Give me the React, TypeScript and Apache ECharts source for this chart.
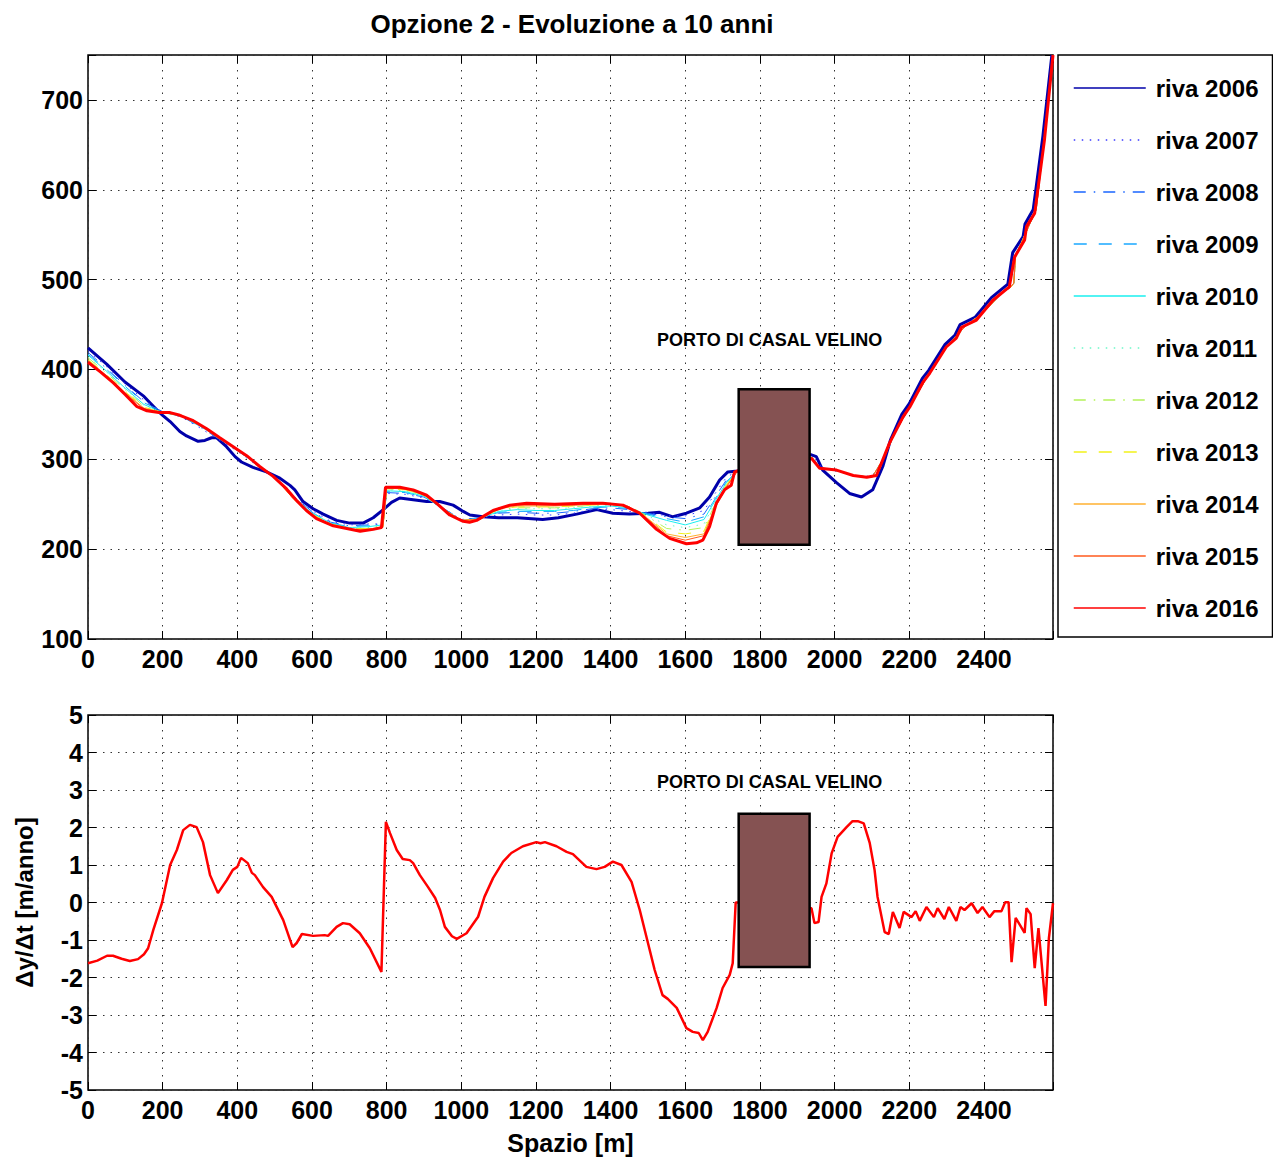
import React, { useEffect, useRef } from "react";
import * as echarts from "echarts";

// ---------- DATA ----------
const TITLE = "Opzione 2 - Evoluzione a 10 anni";
const PORT_LABEL = "PORTO DI CASAL VELINO";
const X_TICK_STEP = 200;
const X_MAX = 2585;

const YEARS = ["riva 2006", "riva 2007", "riva 2008", "riva 2009", "riva 2010", "riva 2011", "riva 2012", "riva 2013", "riva 2014", "riva 2015", "riva 2016"];

const X_2006 = [0, 50, 99, 150, 184, 200, 220, 246, 264, 295, 313, 331, 344, 371, 394, 411, 442, 478, 514, 541, 554, 576, 603, 630, 666, 701, 737, 764, 791, 813, 835, 871, 907, 942, 978, 1005, 1023, 1058, 1100, 1150, 1218, 1260, 1309, 1363, 1406, 1450, 1500, 1531, 1567, 1603, 1639, 1665, 1692, 1714, 1740, 1800, 1900, 1938, 1951, 1968, 2005, 2040, 2072, 2102, 2129, 2150, 2180, 2200, 2235, 2252, 2296, 2322, 2336, 2376, 2420, 2464, 2477, 2505, 2510, 2532, 2558, 2582];
const Y_2006 = [424, 406, 386, 370, 355, 349, 342, 331, 326, 320, 321, 324, 324, 314, 303, 297, 291, 286, 279, 271, 266, 253, 245, 239, 232, 229, 229, 235, 244, 252, 257, 255, 253, 253, 249, 242, 238, 236, 235, 235, 233, 235, 239, 244, 240, 239, 240, 241, 236, 240, 246, 258, 277, 286, 287, 292, 305, 305, 303, 288, 274, 262, 258, 266, 292, 322, 350, 362, 390, 399, 428, 438, 450, 458, 480, 495, 530, 548, 562, 578, 660, 750];

const X_2016 = [0, 34, 68, 100, 130, 158, 190, 220, 246, 282, 318, 353, 389, 425, 460, 496, 532, 559, 585, 612, 657, 693, 729, 764, 786, 797, 835, 871, 907, 934, 969, 1005, 1022, 1041, 1085, 1130, 1175, 1250, 1326, 1379, 1433, 1478, 1523, 1558, 1603, 1630, 1647, 1665, 1683, 1705, 1723, 1732, 1740, 1800, 1900, 1938, 1960, 2005, 2050, 2086, 2112, 2147, 2183, 2201, 2237, 2255, 2299, 2326, 2340, 2380, 2424, 2468, 2482, 2509, 2514, 2536, 2562, 2585];
const Y_2016 = [408, 397, 385, 372, 359, 354, 352, 352, 349, 343, 334, 324, 314, 304, 292, 281, 267, 254, 243, 234, 226, 223, 220, 222, 224, 269, 269, 266, 260, 251, 238, 231, 230, 232, 243, 249, 251, 250, 251, 251, 249, 240, 222, 212, 206, 207, 210, 225, 251, 266, 271, 286, 287, 290, 298, 301, 290, 288, 282, 280, 282, 318, 347, 358, 386, 396, 425, 435, 447, 455, 477, 492, 525, 544, 559, 574, 655, 750];

// shared abscissa of the intermediate years
const X_MID = [0, 50, 100, 150, 200, 250, 300, 350, 400, 450, 500, 550, 600, 650, 700, 750, 790, 800, 850, 900, 950, 1000, 1050, 1100, 1150, 1200, 1250, 1300, 1350, 1400, 1450, 1500, 1550, 1600, 1650, 1680, 1710, 1740, 1800, 1900, 1940, 1960, 2000, 2050, 2100, 2130, 2160, 2200, 2250, 2300, 2350, 2400, 2450, 2470, 2480, 2485, 2510, 2540, 2560, 2585];
const Y_2007 = [421, 403, 384, 366, 353, 347, 335, 322, 309, 294, 280, 259, 243, 231, 227, 228, 228, 262, 261, 257, 246, 233, 235, 238, 239, 238, 238, 240, 244, 244, 242, 241, 237, 237, 243, 262, 280, 287, 290, 299, 302, 293, 287, 282, 281, 300, 329, 359, 394, 426, 449, 465, 487, 492, 497, 528, 551, 579, 651, 750];
const Y_2008 = [419, 401, 382, 364, 353, 348, 336, 323, 310, 295, 280, 259, 242, 230, 226, 227, 228, 263, 262, 258, 246, 233, 235, 240, 241, 240, 240, 242, 245, 246, 244, 240, 236, 234, 239, 258, 277, 287, 290, 299, 302, 291, 288, 282, 280, 300, 328, 358, 393, 425, 448, 464, 486, 491, 496, 527, 550, 578, 650, 750];
const Y_2009 = [417, 400, 381, 363, 353, 348, 337, 323, 310, 295, 280, 258, 241, 229, 225, 226, 227, 264, 263, 258, 246, 232, 234, 241, 242, 242, 242, 243, 246, 247, 245, 239, 234, 230, 236, 256, 275, 287, 290, 299, 302, 291, 288, 282, 280, 300, 328, 358, 393, 425, 448, 464, 486, 491, 496, 527, 550, 578, 650, 750];
const Y_2010 = [416, 398, 379, 361, 352, 348, 337, 324, 310, 295, 280, 258, 240, 229, 224, 225, 227, 265, 264, 259, 245, 232, 234, 242, 244, 243, 243, 245, 247, 248, 246, 238, 232, 227, 233, 254, 274, 287, 290, 299, 302, 290, 288, 282, 280, 300, 328, 358, 393, 425, 448, 464, 486, 491, 496, 527, 550, 578, 650, 750];
const Y_2011 = [414, 397, 378, 360, 352, 349, 337, 324, 311, 295, 280, 257, 240, 228, 224, 224, 226, 266, 265, 259, 245, 232, 234, 243, 245, 245, 245, 246, 248, 249, 247, 237, 227, 224, 228, 252, 273, 287, 290, 299, 302, 290, 288, 282, 280, 300, 328, 358, 393, 425, 448, 464, 486, 491, 496, 527, 550, 578, 650, 750];
const Y_2012 = [413, 396, 377, 359, 352, 349, 338, 324, 311, 295, 280, 257, 239, 228, 223, 223, 226, 267, 266, 260, 245, 232, 234, 244, 246, 246, 246, 247, 249, 250, 248, 236, 223, 221, 224, 250, 272, 287, 290, 299, 302, 290, 288, 282, 280, 300, 328, 358, 393, 425, 448, 464, 486, 491, 496, 527, 550, 578, 650, 750];
const Y_2013 = [411, 394, 375, 358, 352, 349, 338, 324, 311, 295, 280, 257, 239, 228, 223, 223, 225, 267, 266, 260, 245, 232, 233, 245, 247, 247, 247, 248, 249, 250, 248, 235, 219, 217, 220, 249, 271, 287, 290, 299, 302, 290, 288, 282, 280, 300, 328, 358, 393, 425, 448, 464, 486, 491, 496, 527, 550, 578, 650, 750];
const Y_2014 = [410, 393, 374, 357, 352, 349, 338, 324, 311, 295, 280, 256, 238, 227, 222, 222, 225, 268, 267, 261, 245, 232, 233, 245, 248, 248, 248, 249, 250, 250, 247, 234, 217, 213, 217, 248, 270, 287, 290, 299, 302, 290, 288, 282, 280, 300, 328, 358, 393, 425, 448, 464, 486, 491, 496, 527, 550, 578, 650, 750];
const Y_2015 = [409, 392, 373, 356, 352, 349, 338, 324, 311, 295, 280, 256, 238, 227, 222, 222, 224, 268, 267, 261, 245, 232, 233, 246, 249, 249, 249, 249, 250, 251, 247, 233, 215, 210, 215, 246, 269, 287, 290, 299, 302, 290, 288, 282, 280, 300, 328, 358, 393, 425, 448, 464, 486, 491, 496, 527, 550, 578, 650, 750];

// rate of shoreline change (m/anno)
const X_RATE = [0, 25, 51, 67, 90, 112, 134, 150, 161, 175, 198, 220, 238, 255, 273, 291, 308, 327, 348, 372, 388, 400, 410, 428, 439, 447, 469, 492, 523, 548, 559, 573, 603, 634, 643, 666, 683, 701, 728, 755, 786, 798, 809, 827, 843, 862, 871, 889, 911, 930, 943, 956, 975, 988, 1014, 1045, 1062, 1085, 1112, 1134, 1165, 1201, 1212, 1224, 1255, 1282, 1299, 1335, 1362, 1384, 1406, 1429, 1456, 1478, 1496, 1518, 1539, 1553, 1577, 1603, 1620, 1636, 1647, 1660, 1684, 1700, 1719, 1727, 1735, 1745, 1938, 1946, 1957, 1965, 1978, 1992, 2008, 2032, 2048, 2062, 2078, 2094, 2107, 2115, 2134, 2145, 2156, 2174, 2185, 2206, 2217, 2228, 2246, 2266, 2276, 2294, 2306, 2326, 2337, 2348, 2367, 2383, 2396, 2415, 2428, 2447, 2457, 2466, 2474, 2485, 2509, 2514, 2525, 2536, 2546, 2565, 2574, 2585];
const Y_RATE = [-1.62, -1.55, -1.42, -1.42, -1.5, -1.56, -1.51, -1.38, -1.22, -0.73, -0.02, 1.0, 1.4, 1.93, 2.07, 2.01, 1.61, 0.73, 0.25, 0.6, 0.87, 0.95, 1.19, 1.05, 0.79, 0.73, 0.41, 0.15, -0.47, -1.19, -1.08, -0.84, -0.89, -0.87, -0.89, -0.65, -0.55, -0.58, -0.82, -1.22, -1.85, 2.15, 1.85, 1.4, 1.16, 1.13, 1.05, 0.73, 0.41, 0.12, -0.2, -0.65, -0.9, -0.97, -0.82, -0.38, 0.15, 0.65, 1.09, 1.32, 1.5, 1.61, 1.58, 1.61, 1.5, 1.35, 1.29, 0.95, 0.89, 0.95, 1.09, 1.0, 0.55, -0.2, -0.92, -1.8, -2.47, -2.57, -2.81, -3.35, -3.45, -3.48, -3.67, -3.45, -2.81, -2.28, -1.93, -1.62, 0.0, 0.0, -0.15, -0.55, -0.52, 0.15, 0.51, 1.31, 1.75, 2.01, 2.17, 2.17, 2.11, 1.59, 0.87, 0.15, -0.79, -0.84, -0.25, -0.68, -0.25, -0.39, -0.23, -0.49, -0.12, -0.39, -0.15, -0.44, -0.12, -0.49, -0.12, -0.2, -0.02, -0.28, -0.12, -0.39, -0.23, -0.23, 0.01, 0.01, -1.59, -0.41, -0.81, -0.15, -0.31, -1.75, -0.68, -2.76, -0.95, -0.02];

// port structure (x from/to, y from/to in each panel) and label anchor
const PORT_X = [1743, 1933];
const PORT_Y_TOP = [205, 378];
const PORT_Y_BOTTOM = [-1.72, 2.37];
const PORT_LABEL_X = 1826;
const PORT_LABEL_Y_TOP = 433;
const PORT_LABEL_Y_BOTTOM = 3.21;

// ---------- STYLE ----------
const FONT = "'Liberation Sans', Arial, Helvetica, sans-serif";
const COLORS = ["#0000aa", "#3a3aff", "#1a66ff", "#1aa8ff", "#1aefef", "#6cf7c8", "#b4f25a", "#f2f21a", "#ffb030", "#ff5a1e", "#ff0000"];
const DOT = [1.5, 6.5];
const DASHDOT = [12, 8, 1.5, 8];
const DASH = [13, 12];
const TYPES: any[] = ["solid", DOT, DASHDOT, DASH, "solid", DOT, DASHDOT, DASH, "solid", "solid", "solid"];
const WIDTHS = [3, 1, 1, 1, 1, 1, 1, 1, 1, 1, 3];

const zip = (xs: number[], ys: number[]) => xs.map((x, i) => [x, ys[i]]);

const tickLabel = { fontFamily: FONT, fontWeight: "bold", fontSize: 25, color: "#000" };
const gridLine = { show: true, lineStyle: { color: "#333", width: 1, type: [1.5, 6] } };
const innerTick = { inside: true, length: 8, lineStyle: { color: "#000", width: 1 } };

function xAxes(gridIndex: number, withName: boolean) {
  const base = { gridIndex, type: "value", min: 0, max: X_MAX, interval: X_TICK_STEP };
  return [
    {
      ...base,
      position: "bottom",
      axisLine: { show: false, onZero: false },
      axisTick: innerTick,
      axisLabel: {
        ...tickLabel,
        margin: 7,
        formatter: (v: number) => (v % X_TICK_STEP === 0 ? String(v) : ""),
      },
      splitLine: gridLine,
      name: withName ? "Spazio [m]" : "",
      nameLocation: "middle",
      nameGap: 40,
      nameTextStyle: { ...tickLabel, fontSize: 25 },
    },
    {
      ...base,
      position: "top",
      axisLine: { show: false, onZero: false },
      axisTick: innerTick,
      axisLabel: { show: false },
      splitLine: { show: false },
    },
  ];
}

function yAxes(gridIndex: number, min: number, max: number, step: number, name: string) {
  const base = { gridIndex, type: "value", min, max, interval: step };
  return [
    {
      ...base,
      position: "left",
      axisLine: { show: false, onZero: false },
      axisTick: innerTick,
      axisLabel: {
        ...tickLabel,
        margin: 5,
        formatter: (v: number) => ((v - min) % step === 0 ? String(v) : ""),
      },
      splitLine: gridLine,
      name,
      nameLocation: "middle",
      nameGap: 52,
      nameRotate: 90,
      nameTextStyle: { ...tickLabel, fontSize: 24 },
    },
    {
      ...base,
      position: "right",
      axisLine: { show: false, onZero: false },
      axisTick: innerTick,
      axisLabel: { show: false },
      splitLine: { show: false },
    },
  ];
}

function portSeries(xAxisIndex: number, yAxisIndex: number, ys: number[], labelY: number) {
  return {
    type: "custom",
    xAxisIndex,
    yAxisIndex,
    z: 10,
    silent: true,
    data: [[PORT_X[0], ys[0], PORT_X[1], ys[1], PORT_LABEL_X, labelY]],
    encode: { x: [0, 2], y: [1, 3] },
    renderItem: (_p: any, api: any) => {
      const a = api.coord([api.value(0), api.value(3)]);
      const b = api.coord([api.value(2), api.value(1)]);
      const t = api.coord([api.value(4), api.value(5)]);
      return {
        type: "group",
        children: [
          {
            type: "rect",
            shape: { x: a[0], y: a[1], width: b[0] - a[0], height: b[1] - a[1] },
            style: { fill: "#855252", stroke: "#000", lineWidth: 2.5 },
          },
          {
            type: "text",
            x: t[0],
            y: t[1],
            style: {
              text: PORT_LABEL,
              align: "center",
              verticalAlign: "middle",
              fontFamily: FONT,
              fontWeight: "bold",
              fontSize: 18,
              fill: "#000",
            },
          },
        ],
      };
    },
  };
}

export default function App() {
  const ref = useRef<HTMLDivElement>(null);

  useEffect(() => {
    if (!ref.current) return;
    const chart = echarts.init(ref.current, undefined, { renderer: "svg" });

    const shoreData = [
      zip(X_2006, Y_2006),
      zip(X_MID, Y_2007),
      zip(X_MID, Y_2008),
      zip(X_MID, Y_2009),
      zip(X_MID, Y_2010),
      zip(X_MID, Y_2011),
      zip(X_MID, Y_2012),
      zip(X_MID, Y_2013),
      zip(X_MID, Y_2014),
      zip(X_MID, Y_2015),
      zip(X_2016, Y_2016),
    ];

    const shoreSeries = YEARS.map((name, i) => ({
      name,
      type: "line",
      xAxisIndex: 0,
      yAxisIndex: 0,
      data: shoreData[i],
      symbol: "none",
      showSymbol: false,
      z: 2,
      lineStyle: { color: COLORS[i], width: WIDTHS[i], type: TYPES[i] },
      itemStyle: { color: COLORS[i] },
      emphasis: { disabled: true },
    }));

    const option: any = {
      animation: false,
      backgroundColor: "#fff",
      title: {
        text: TITLE,
        left: 567,
        top: 6,
        textAlign: "center",
        textStyle: { fontFamily: FONT, fontWeight: "bold", fontSize: 26, color: "#000" },
      },
      legend: {
        data: YEARS,
        orient: "vertical",
        left: 1058,
        top: 55,
        padding: [21, 14, 17, 15],
        itemGap: 28,
        itemWidth: 72,
        itemHeight: 24,
        selectedMode: false,
        borderColor: "#000",
        borderWidth: 1.5,
        backgroundColor: "#fff",
        itemStyle: { opacity: 0, borderWidth: 0 },
        lineStyle: { width: 1.5, opacity: 1 },
        textStyle: { fontFamily: FONT, fontWeight: "bold", fontSize: 24, color: "#000", lineHeight: 24, padding: [0, 0, 0, 5] },
      },
      grid: [
        { left: 88, top: 55, width: 965, height: 584, show: true, borderColor: "#000", borderWidth: 1.5, backgroundColor: "#fff" },
        { left: 88, top: 715, width: 965, height: 375, show: true, borderColor: "#000", borderWidth: 1.5, backgroundColor: "#fff" },
      ],
      xAxis: [...xAxes(0, false), ...xAxes(1, true)],
      yAxis: [...yAxes(0, 100, 750, 100, ""), ...yAxes(1, -5, 5, 1, "Δy/Δt [m/anno]")],
      series: [
        ...shoreSeries,
        portSeries(0, 0, PORT_Y_TOP, PORT_LABEL_Y_TOP),
        {
          name: "Δy/Δt",
          type: "line",
          xAxisIndex: 2,
          yAxisIndex: 2,
          data: zip(X_RATE, Y_RATE),
          symbol: "none",
          showSymbol: false,
          z: 2,
          lineStyle: { color: "#ff0000", width: 2.5 },
          emphasis: { disabled: true },
        },
        portSeries(2, 2, PORT_Y_BOTTOM, PORT_LABEL_Y_BOTTOM),
      ],
    };

    chart.setOption(option);
    return () => chart.dispose();
  }, []);

  return (
    <div
      ref={ref}
      style={{ position: "absolute", left: 0, top: 0, width: 1273, height: 1160, background: "#fff" }}
    />
  );
}
